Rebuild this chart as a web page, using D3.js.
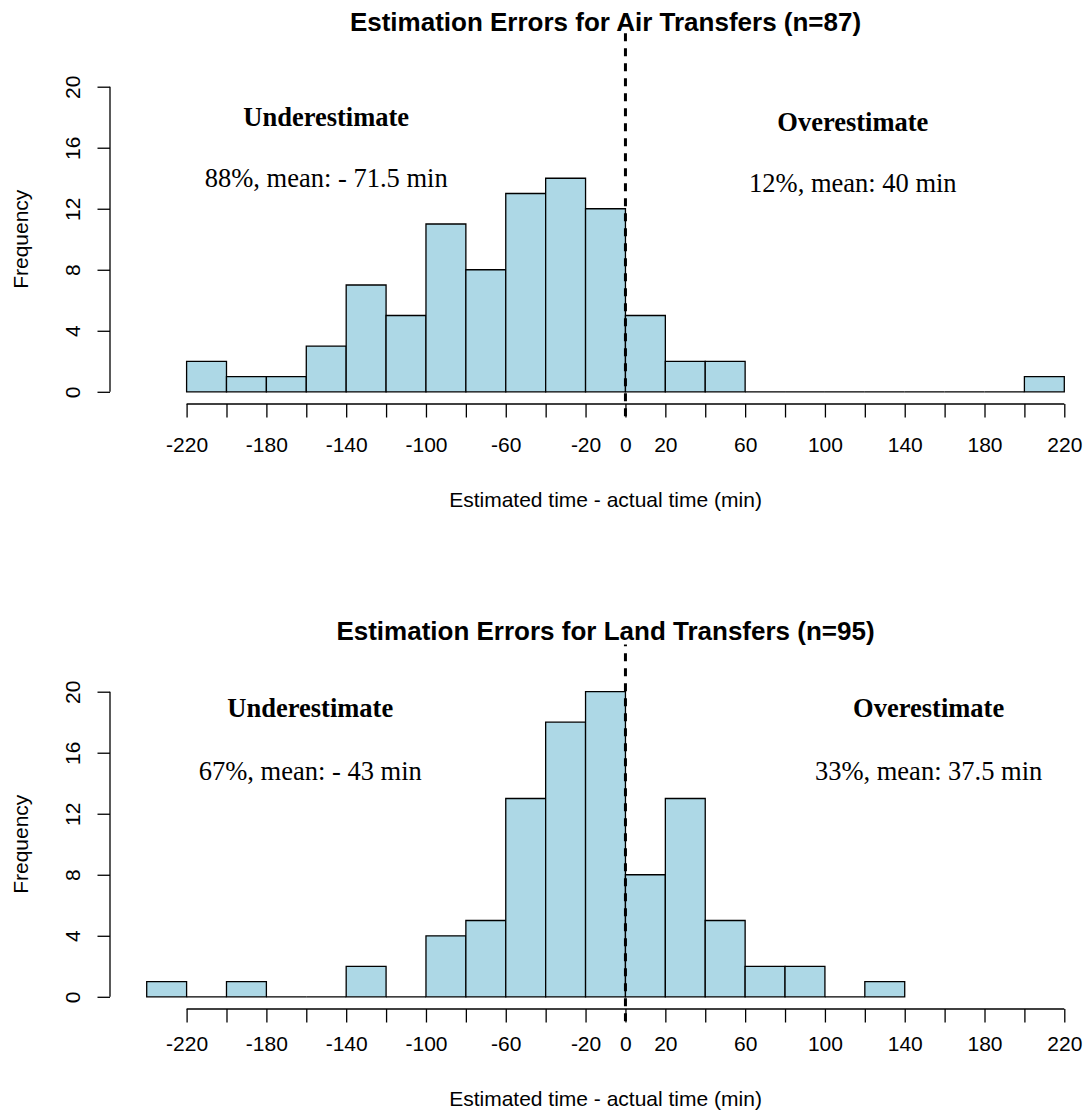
<!DOCTYPE html>
<html>
<head>
<meta charset="utf-8">
<script src="https://cdn.jsdelivr.net/npm/d3@7"></script>
<style>
  body { margin: 0; background: #fff; }
</style>
</head>
<body>
<script>
// histogram bins: left edges (min) and counts, 20-minute wide
const binWidth = 20;
const airBinStarts = [-220, -200, -180, -160, -140, -120, -100, -80, -60, -40, -20, 0, 20, 40, 60, 80, 100, 120, 140, 160, 180, 200];
const airCounts = [2, 1, 1, 3, 7, 5, 11, 8, 13, 14, 12, 5, 2, 2, 0, 0, 0, 0, 0, 0, 0, 1];
const landBinStarts = [-240, -220, -200, -180, -160, -140, -120, -100, -80, -60, -40, -20, 0, 20, 40, 60, 80, 100, 120];
const landCounts = [1, 0, 1, 0, 0, 2, 0, 4, 5, 13, 18, 20, 8, 13, 5, 2, 2, 0, 1];

// axis ticks
const xTicks = [-220, -200, -180, -160, -140, -120, -100, -80, -60, -40, -20, 0, 20, 40, 60, 80, 100, 120, 140, 160, 180, 200, 220];
const xTickLabels = [-220, -180, -140, -100, -60, -20, 0, 20, 60, 100, 140, 180, 220];
const yTicks = [0, 4, 8, 12, 16, 20];

// annotations
const airNotes = ["Underestimate", "88%, mean: - 71.5 min", "Overestimate", "12%, mean: 40 min"];
const landNotes = ["Underestimate", "67%, mean: - 43 min", "Overestimate", "33%, mean: 37.5 min"];

const W = 1086, H = 1117;
const SANS = "'Liberation Sans', Arial, Helvetica, sans-serif";
const SERIF = "'Liberation Serif', 'Times New Roman', serif";

const svg = d3.select("body").append("svg")
  .attr("width", W).attr("height", H)
  .style("background", "#fff");

// plot region (usr = data range + 4%)
const plot = { left: 110, right: 1101, top: 74.5, bottom: 404 };

const drawPanel = (cfg, oy) => {
  const g = svg.append("g").attr("transform", `translate(0,${oy})`);

  const x = d3.scaleLinear().domain([-258.4, 238.4]).range([plot.left, plot.right]);
  const y = d3.scaleLinear().domain([-0.8, 20.8]).range([plot.bottom, plot.top]);

  // bars as paths so empty bins still show their outline on the baseline
  g.selectAll(".bar")
    .data(cfg.starts.map((s, i) => ({ s, n: cfg.counts[i] })))
    .enter()
    .append("path")
    .attr("class", "bar")
    .attr("d", (d) => `M${x(d.s)},${y(0)}V${y(d.n)}H${x(d.s + binWidth)}V${y(0)}Z`)
    .attr("fill", "#add8e6")
    .attr("stroke", "#000")
    .attr("stroke-width", 1.3);

  // x axis
  const xAxis = d3.axisBottom(x)
    .tickValues(xTicks)
    .tickSizeInner(13.5)
    .tickSizeOuter(0)
    .tickPadding(cfg.labelPad)
    .tickFormat((d) => (xTickLabels.includes(d) ? d : ""));
  const xg = g.append("g").attr("transform", `translate(0,${plot.bottom})`).call(xAxis);
  xg.select(".domain").attr("d", `M${x(xTicks[0])},0H${x(xTicks[xTicks.length - 1])}`);

  // y axis with rotated labels
  const yAxis = d3.axisLeft(y).tickValues(yTicks).tickSizeInner(12.5).tickSizeOuter(0);
  const yg = g.append("g").attr("transform", `translate(${plot.left},0)`).call(yAxis);
  yg.select(".domain").attr("d", `M0,${y(0)}V${y(20)}`);
  yg.selectAll(".tick text")
    .attr("transform", "rotate(-90)")
    .attr("x", 0)
    .attr("y", -30)
    .attr("dy", 0)
    .attr("text-anchor", "middle");

  [xg, yg].forEach((a) => {
    a.attr("font-family", SANS).attr("font-size", 21);
    a.selectAll("path, line").attr("stroke", "#000").attr("stroke-width", 1.3);
    a.selectAll("text").attr("fill", "#000");
  });

  // axis titles
  g.append("text")
    .attr("x", x(-10)).attr("y", plot.bottom + cfg.xTitleGap)
    .attr("text-anchor", "middle")
    .attr("font-family", SANS).attr("font-size", 21)
    .text("Estimated time - actual time (min)");
  g.append("text")
    .attr("transform", `translate(28,${y(10)}) rotate(-90)`)
    .attr("text-anchor", "middle")
    .attr("font-family", SANS).attr("font-size", 21)
    .text("Frequency");

  // main title
  g.append("text")
    .attr("x", x(-10)).attr("y", cfg.titleY)
    .attr("text-anchor", "middle")
    .attr("font-family", SANS).attr("font-size", 26).attr("font-weight", "bold")
    .text(cfg.title);

  // dashed zero line
  g.append("line")
    .attr("x1", x(0)).attr("x2", x(0))
    .attr("y1", y(-1.6)).attr("y2", y(cfg.dashTop))
    .attr("stroke", "#000").attr("stroke-width", 3)
    .attr("stroke-dasharray", "8,7");

  // annotations
  cfg.notes.forEach((t, i) => {
    g.append("text")
      .attr("x", x(cfg.noteX[i])).attr("y", y(cfg.noteY[i]))
      .attr("text-anchor", "middle")
      .attr("dominant-baseline", "central")
      .attr("font-family", SERIF).attr("font-size", 26.5)
      .attr("font-weight", i % 2 === 0 ? "bold" : "normal")
      .text(t);
  });
};

drawPanel({
  title: "Estimation Errors for Air Transfers (n=87)",
  titleY: 31,
  labelPad: 20,
  xTitleGap: 103,
  dashTop: 23.5,
  starts: airBinStarts,
  counts: airCounts,
  notes: airNotes,
  noteX: [-150, -150, 114, 114],
  noteY: [18, 14, 17.7, 13.7],
}, 0);

drawPanel({
  title: "Estimation Errors for Land Transfers (n=95)",
  titleY: 35,
  labelPad: 14,
  xTitleGap: 97,
  dashTop: 23.1,
  starts: landBinStarts,
  counts: landCounts,
  notes: landNotes,
  noteX: [-158, -158, 152, 152],
  noteY: [18.9, 14.8, 18.9, 14.8],
}, 605);
</script>
</body>
</html>
